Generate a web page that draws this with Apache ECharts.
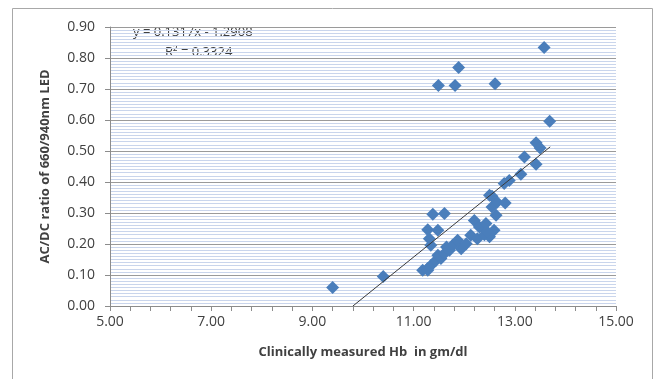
<!DOCTYPE html>
<html>
<head>
<meta charset="utf-8">
<script src="https://cdn.jsdelivr.net/npm/echarts@6/dist/echarts.min.js"></script>
<style>
  html, body {margin: 0; padding: 0; background: #fff;}
  #chart {width: 655px; height: 379px;}
</style>
</head>
<body>
<div id="chart"></div>
<script>
// measured Hb (gm/dl) and AC/DC ratio
const hbValues = [
    9.40, 10.40, 11.18, 11.28, 11.34, 11.28, 11.44, 11.54, 11.48, 11.61,
    11.71, 11.94, 11.77, 11.87, 12.04, 11.34, 11.31, 11.28, 11.48, 11.38,
    11.61, 12.13, 12.26, 12.50, 12.59, 12.20, 12.30, 12.43, 12.63, 12.55,
    12.50, 12.65, 12.81, 12.55, 12.79, 12.89, 13.12, 13.19, 13.42, 13.42,
    13.50, 13.69, 11.49, 11.82, 12.61, 11.89, 13.58, 12.40, 12.45, 11.65
];
const ratioValues = [
    0.06, 0.095, 0.115, 0.121, 0.131, 0.115, 0.147, 0.153, 0.164, 0.169,
    0.180, 0.185, 0.196, 0.212, 0.201, 0.196, 0.217, 0.246, 0.244, 0.296,
    0.298, 0.228, 0.217, 0.223, 0.244, 0.276, 0.255, 0.266, 0.293, 0.319,
    0.357, 0.335, 0.332, 0.354, 0.395, 0.405, 0.425, 0.481, 0.457, 0.527,
    0.510, 0.596, 0.711, 0.711, 0.717, 0.769, 0.834, 0.230, 0.240, 0.190
];
const trendSlope = 0.1317;
const trendIntercept = -1.2908;
const trendRange = [9.80, 13.70];
const equationLines = ['y = 0.1317x - 1.2908', 'R² = 0.3324'];

const points = hbValues.map((x, i) => [x, ratioValues[i]]);
const trendPoints = trendRange.map(x => [x, trendSlope * x + trendIntercept]);

const chart = echarts.init(document.getElementById('chart'));
const labelColor = '#404040';
const font = '"Open Sans", Lato, sans-serif';

chart.setOption({
    animation: false,
    textStyle: {fontFamily: font},
    grid: {left: 110, right: 39, top: 27, bottom: 73},
    graphic: [
        {
            type: 'rect',
            shape: {x: 12.5, y: 8.5, width: 640, height: 420},
            style: {fill: 'none', stroke: '#a8a8a8', lineWidth: 1},
            silent: true
        },
        {
            type: 'text', left: 133, top: 26,
            style: {text: equationLines[0], fill: labelColor, font: '13px ' + font}
        },
        {
            type: 'text', left: 165, top: 46,
            style: {text: equationLines[1], fill: labelColor, font: '13px ' + font}
        }
    ],
    xAxis: {
        type: 'value',
        min: 5,
        max: 15,
        interval: 2,
        name: 'Clinically measured Hb  in gm/dl',
        nameLocation: 'middle',
        nameGap: 40,
        nameTextStyle: {color: labelColor, fontWeight: 'bold', fontSize: 13},
        axisLine: {lineStyle: {color: '#8c8c8c'}},
        axisTick: {show: true, length: 5, lineStyle: {color: '#8c8c8c'}},
        minorTick: {show: true, splitNumber: 5, length: 5, lineStyle: {color: '#8c8c8c'}},
        splitLine: {show: false},
        axisLabel: {
            color: labelColor, fontSize: 14, margin: 9,
            formatter: v => v.toFixed(2)
        }
    },
    yAxis: {
        type: 'value',
        min: 0,
        max: 0.9,
        interval: 0.1,
        name: 'AC/DC ratio of 660/940nm LED',
        nameLocation: 'middle',
        nameGap: 58,
        nameTextStyle: {color: labelColor, fontWeight: 'bold', fontSize: 13},
        axisLine: {show: true, lineStyle: {color: '#8c8c8c'}},
        axisTick: {show: true, length: 5, lineStyle: {color: '#8c8c8c'}},
        splitLine: {show: true, lineStyle: {color: '#9a9a9a', width: 1}},
        minorTick: {show: false, splitNumber: 10},
        minorSplitLine: {show: true, lineStyle: {color: '#c9d5ec', width: 1}},
        axisLabel: {
            color: labelColor, fontSize: 14, margin: 15,
            formatter: v => v.toFixed(2)
        }
    },
    series: [
        {
            type: 'scatter',
            data: points,
            symbol: 'diamond',
            symbolSize: 13,
            itemStyle: {color: '#4a7ebb', opacity: 1}
        },
        {
            type: 'line',
            data: trendPoints,
            symbol: 'none',
            lineStyle: {color: '#3a3a3a', width: 1}
        }
    ]
});
</script>
</body>
</html>
